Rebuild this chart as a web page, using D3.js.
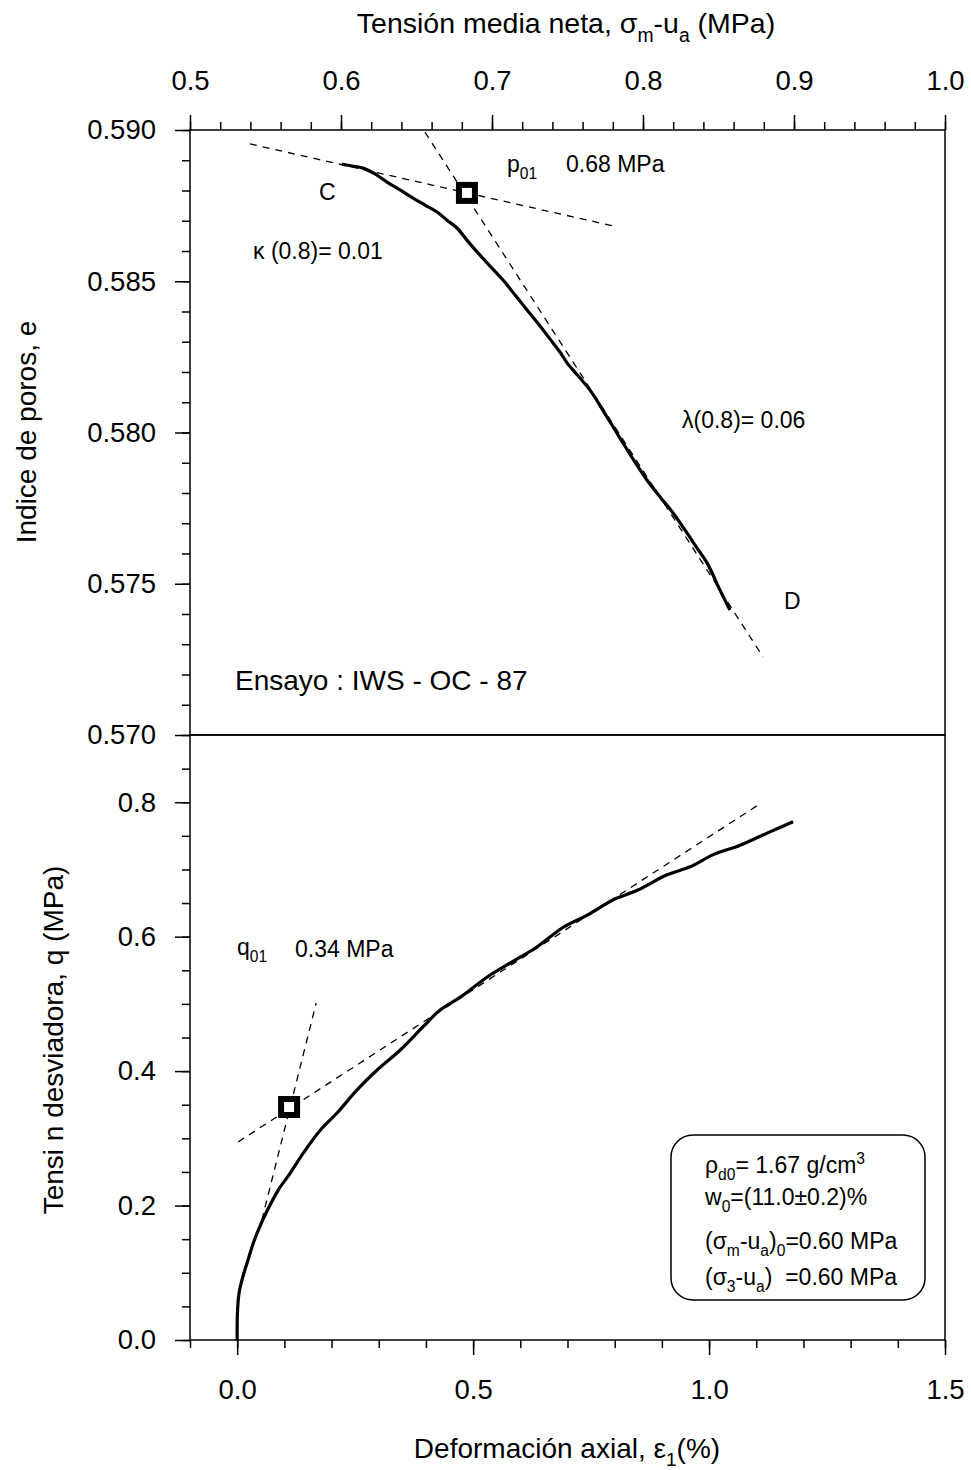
<!DOCTYPE html>
<html>
<head>
<meta charset="utf-8">
<script src="https://cdn.jsdelivr.net/npm/d3@7"></script>
<style>
  body { margin: 0; background: #fff; }
  svg { display: block; font-family: "Liberation Sans", Arial, sans-serif; }
  text { fill: #000; white-space: pre; }
</style>
</head>
<body>
<svg id="chart" width="971" height="1470"></svg>
<script>
// top panel: void ratio vs net mean stress (curve C -> D)
const stressTop = [0.6005, 0.6073, 0.6146, 0.6225, 0.6305, 0.6391, 0.6477, 0.6556, 0.6636, 0.6702,
  0.6768, 0.6834, 0.6901, 0.6987, 0.7073, 0.7152, 0.7232, 0.7318, 0.7404, 0.7450, 0.7503, 0.7536,
  0.7649, 0.7762, 0.7868, 0.7947, 0.8026, 0.8113, 0.8199, 0.8291, 0.8358, 0.8424, 0.8510, 0.8576];
const voidTop = [0.58887, 0.58881, 0.58874, 0.58855, 0.58828, 0.58802, 0.58775, 0.58752, 0.58729, 0.58702,
  0.58676, 0.58636, 0.58597, 0.58550, 0.58504, 0.58455, 0.58405, 0.58352, 0.58296, 0.58266, 0.58226, 0.58207,
  0.58140, 0.58051, 0.57965, 0.57902, 0.57843, 0.57787, 0.57734, 0.57668, 0.57618, 0.57569, 0.57479, 0.57413];

// bottom panel: deviator stress vs axial strain
const strainBot = [0, 0.0005, 0.004, 0.012, 0.023, 0.034, 0.045, 0.064, 0.087, 0.112, 0.140, 0.176, 0.212,
  0.254, 0.297, 0.345, 0.394, 0.430, 0.473, 0.530, 0.579, 0.636, 0.691, 0.742, 0.797, 0.848, 0.911,
  0.960, 1.009, 1.066, 1.123, 1.178];
const qBot = [0, 0.040, 0.070, 0.094, 0.119, 0.144, 0.164, 0.193, 0.223, 0.248, 0.278, 0.312, 0.338,
  0.372, 0.402, 0.431, 0.466, 0.491, 0.510, 0.540, 0.561, 0.585, 0.614, 0.632, 0.655, 0.669, 0.692,
  0.704, 0.722, 0.736, 0.754, 0.771];

// tangent lines (dashed)
const kappaX = [0.5397, 0.7801], kappaE = [0.58954, 0.58683];
const lambdaX = [0.6556, 0.8795], lambdaE = [0.58993, 0.57258];
const steepX = [0.0523, 0.1674], steepQ = [0.1785, 0.5013];
const shallowX = [0.002, 1.104], shallowQ = [0.2946, 0.7959];
const p01 = [0.6834, 0.58792];
const q01 = [0.110, 0.3466];

// ticks
const topXTicks = [0.5, 0.6, 0.7, 0.8, 0.9, 1.0];
const topYTicks = [0.570, 0.575, 0.580, 0.585, 0.590];
const botXTicks = [0.0, 0.5, 1.0, 1.5];
const botYTicks = [0.0, 0.2, 0.4, 0.6, 0.8];

const svg = d3.select("#chart");
const L = 190, R = 945, T = 130, M = 735, B = 1340;
const tickFont = 27.5;

const xTop = d3.scaleLinear().domain([0.5, 1.0]).range([L, R]);
const yTop = d3.scaleLinear().domain([0.570, 0.590]).range([M, T]);
const xBot = d3.scaleLinear().domain([-0.1, 1.5]).range([L, R]);
const yBot = d3.scaleLinear().domain([0, 0.9]).range([B, M]);

function rich(g, x, y, parts, size, anchor) {
  const t = g.append("text").attr("x", x).attr("y", y)
    .attr("font-size", size).attr("text-anchor", anchor || "start");
  let shift = 0;
  parts.forEach(([s, kind]) => {
    const target = kind === "sub" ? 0.3 * size : kind === "sup" ? -0.4 * size : 0;
    const ts = t.append("tspan").text(s).attr("dy", target - shift);
    if (kind) ts.attr("font-size", size * 0.68);
    shift = target;
  });
  return t;
}

function styleAxis(g, labels) {
  g.select(".domain").remove();
  g.selectAll("line").attr("stroke", "#000").attr("stroke-width", 1.5);
  g.selectAll("text").attr("font-size", tickFont).attr("font-family", null).attr("fill", "#000");
  if (!labels) g.selectAll("text").remove();
}

function minor(lo, hi, step) {
  return d3.range(Math.round((hi - lo) / step) + 1).map(i => +(lo + i * step).toFixed(4));
}

// top x axis
svg.append("g").attr("transform", `translate(0,${T})`)
  .call(d3.axisTop(xTop).tickValues(minor(0.5, 1.0, 0.02)).tickSize(8).tickSizeOuter(0))
  .call(g => styleAxis(g, false));
svg.append("g").attr("transform", `translate(0,${T})`)
  .call(d3.axisTop(xTop).tickValues(topXTicks).tickSize(15).tickPadding(25).tickSizeOuter(0).tickFormat(d3.format(".1f")))
  .call(g => styleAxis(g, true));

// top y axis
svg.append("g").attr("transform", `translate(${L},0)`)
  .call(d3.axisLeft(yTop).tickValues(minor(0.570, 0.590, 0.001)).tickSize(8).tickSizeOuter(0))
  .call(g => styleAxis(g, false));
svg.append("g").attr("transform", `translate(${L},0)`)
  .call(d3.axisLeft(yTop).tickValues(topYTicks).tickSize(15).tickPadding(19).tickSizeOuter(0).tickFormat(d3.format(".3f")))
  .call(g => styleAxis(g, true));

// bottom x axis
svg.append("g").attr("transform", `translate(0,${B})`)
  .call(d3.axisBottom(xBot).tickValues(minor(-0.1, 1.5, 0.1)).tickSize(8).tickSizeOuter(0))
  .call(g => styleAxis(g, false));
svg.append("g").attr("transform", `translate(0,${B})`)
  .call(d3.axisBottom(xBot).tickValues(botXTicks).tickSize(15).tickPadding(24).tickSizeOuter(0).tickFormat(d3.format(".1f")))
  .call(g => styleAxis(g, true));

// bottom y axis
svg.append("g").attr("transform", `translate(${L},0)`)
  .call(d3.axisLeft(yBot).tickValues(minor(0, 0.85, 0.05)).tickSize(8).tickSizeOuter(0))
  .call(g => styleAxis(g, false));
svg.append("g").attr("transform", `translate(${L},0)`)
  .call(d3.axisLeft(yBot).tickValues(botYTicks).tickSize(15).tickPadding(19).tickSizeOuter(0).tickFormat(d3.format(".1f")))
  .call(g => styleAxis(g, true));

// frames
svg.append("rect").attr("x", L).attr("y", T).attr("width", R - L).attr("height", M - T)
  .attr("fill", "none").attr("stroke", "#000").attr("stroke-width", 1.5);
svg.append("rect").attr("x", L).attr("y", M).attr("width", R - L).attr("height", B - M)
  .attr("fill", "none").attr("stroke", "#000").attr("stroke-width", 1.5);

// dashed tangents
function dashed(xs, ys, sx, sy) {
  svg.append("line")
    .attr("x1", sx(xs[0])).attr("y1", sy(ys[0]))
    .attr("x2", sx(xs[1])).attr("y2", sy(ys[1]))
    .attr("stroke", "#000").attr("stroke-width", 1.3).attr("stroke-dasharray", "7,6");
}
dashed(kappaX, kappaE, xTop, yTop);
dashed(lambdaX, lambdaE, xTop, yTop);
dashed(steepX, steepQ, xBot, yBot);
dashed(shallowX, shallowQ, xBot, yBot);

// curves
const lineTop = d3.line().x(d => xTop(d[0])).y(d => yTop(d[1])).curve(d3.curveCatmullRom.alpha(0.5));
svg.append("path").datum(d3.zip(stressTop, voidTop)).attr("d", lineTop)
  .attr("fill", "none").attr("stroke", "#000").attr("stroke-width", 3.2).attr("stroke-linejoin", "round");
const lineBot = d3.line().x(d => xBot(d[0])).y(d => yBot(d[1])).curve(d3.curveCatmullRom.alpha(0.5));
svg.append("path").datum(d3.zip(strainBot, qBot)).attr("d", lineBot)
  .attr("fill", "none").attr("stroke", "#000").attr("stroke-width", 3.2).attr("stroke-linejoin", "round");

// yield markers
function marker(px, py) {
  svg.append("rect").attr("x", px - 8).attr("y", py - 8).attr("width", 16).attr("height", 16)
    .attr("fill", "#fff").attr("stroke", "#000").attr("stroke-width", 6);
}
marker(xTop(p01[0]), yTop(p01[1]));
marker(xBot(q01[0]), yBot(q01[1]));

// axis titles
rich(svg, 566, 33, [["Tensión media neta, σ"], ["m", "sub"], ["-u"], ["a", "sub"], [" (MPa)"]], 28.5, "middle");
rich(svg, 567, 1458, [["Deformación axial, ε"], ["1", "sub"], ["(%)"]], 28, "middle");
svg.append("text").attr("transform", "translate(36,432) rotate(-90)")
  .attr("text-anchor", "middle").attr("font-size", 28).text("Indice de poros, e");
svg.append("text").attr("transform", "translate(63,1040) rotate(-90)")
  .attr("text-anchor", "middle").attr("font-size", 28).text("Tensi n desviadora, q (MPa)");

// annotations
const ann = 23;
svg.append("text").attr("x", 319).attr("y", 200).attr("font-size", ann).text("C");
rich(svg, 507, 172, [["p"], ["01", "sub"]], ann);
svg.append("text").attr("x", 566).attr("y", 172).attr("font-size", ann).text("0.68 MPa");
svg.append("text").attr("x", 253).attr("y", 259).attr("font-size", ann).text("κ (0.8)= 0.01");
svg.append("text").attr("x", 682).attr("y", 428).attr("font-size", ann).text("λ(0.8)= 0.06");
svg.append("text").attr("x", 784).attr("y", 609).attr("font-size", ann).text("D");
svg.append("text").attr("x", 235).attr("y", 690).attr("font-size", 28).text("Ensayo : IWS - OC - 87");
rich(svg, 237, 955, [["q"], ["01", "sub"]], ann);
svg.append("text").attr("x", 295).attr("y", 957).attr("font-size", ann).text("0.34 MPa");

// info box
svg.append("rect").attr("x", 671).attr("y", 1135).attr("width", 254).attr("height", 165)
  .attr("rx", 22).attr("ry", 22).attr("fill", "#fff").attr("stroke", "#000").attr("stroke-width", 1.5);
const bx = 705, bs = 23;
rich(svg, bx, 1173, [["ρ"], ["d0", "sub"], ["= 1.67 g/cm"], ["3", "sup"]], bs);
rich(svg, bx, 1205, [["w"], ["0", "sub"], ["=(11.0±0.2)%"]], bs);
rich(svg, bx, 1249, [["(σ"], ["m", "sub"], ["-u"], ["a", "sub"], [")"], ["0", "sub"], ["=0.60 MPa"]], bs);
rich(svg, bx, 1285, [["(σ"], ["3", "sub"], ["-u"], ["a", "sub"], [")  =0.60 MPa"]], bs);
</script>
</body>
</html>
